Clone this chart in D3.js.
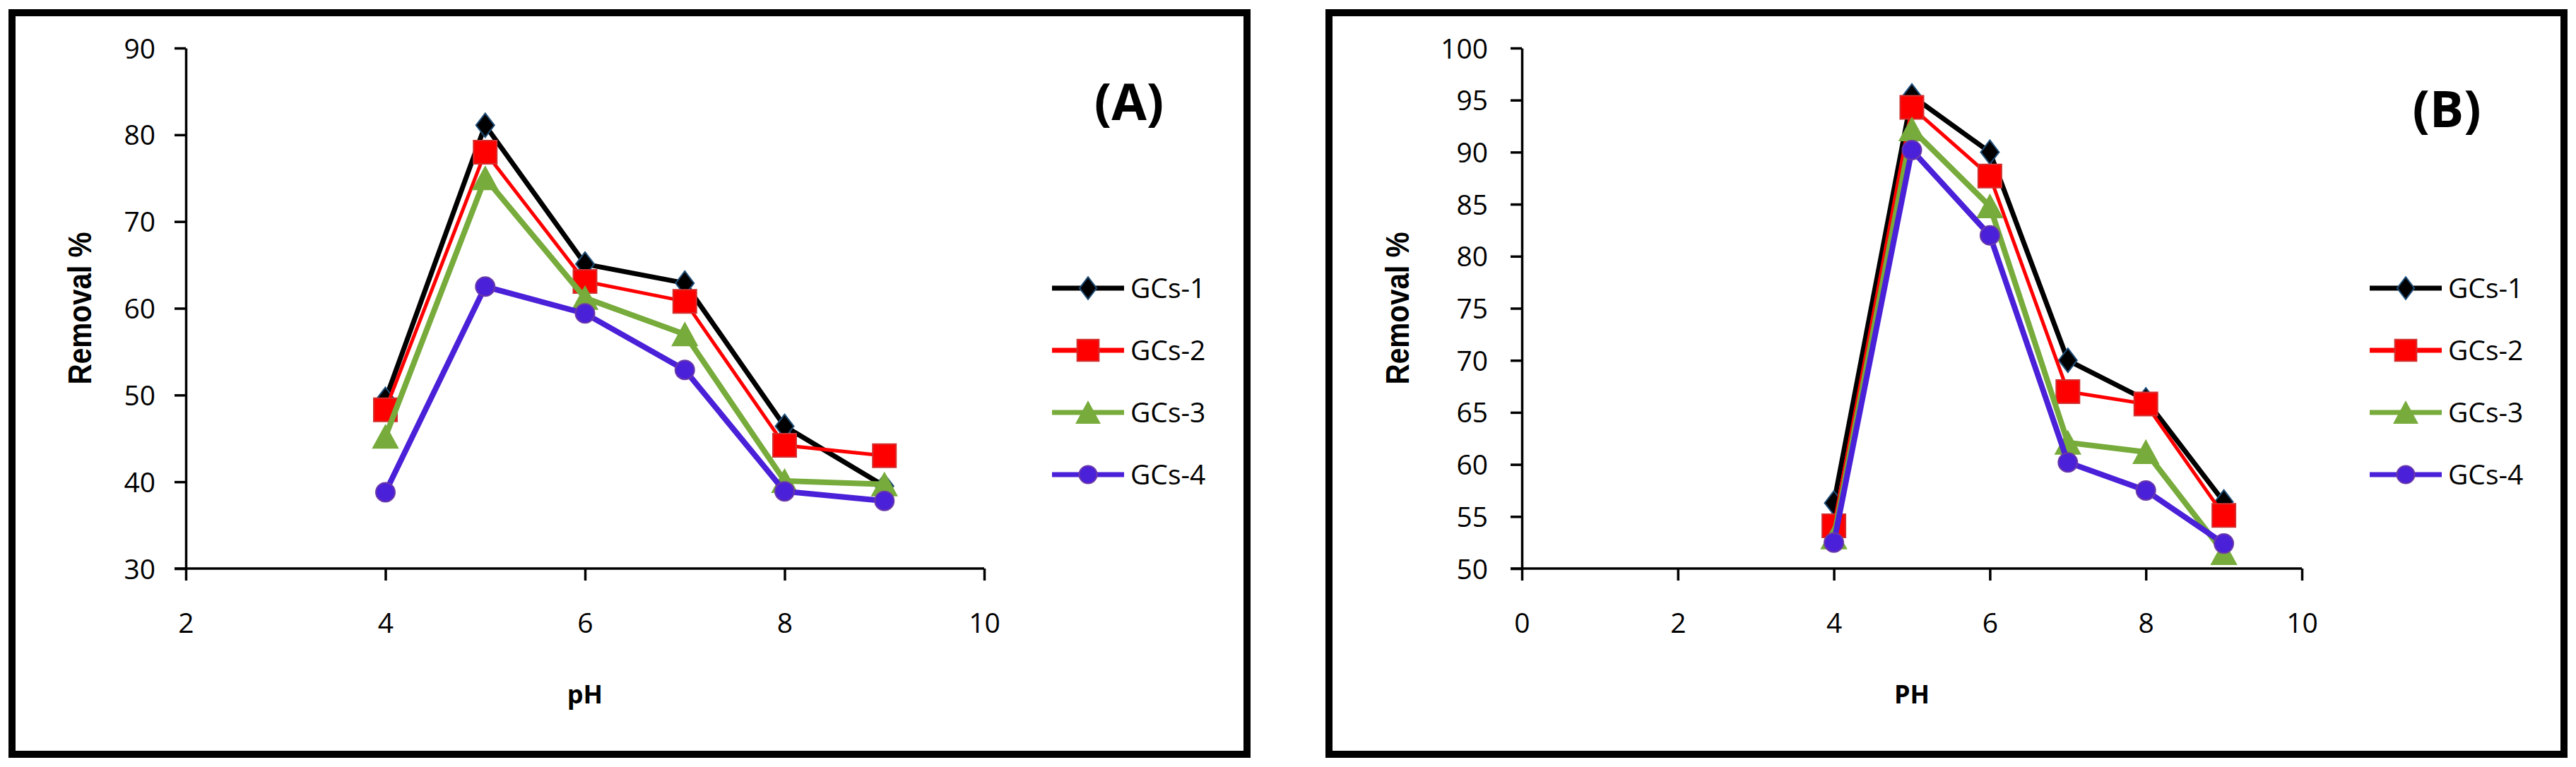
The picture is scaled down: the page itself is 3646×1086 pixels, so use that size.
<!DOCTYPE html>
<html>
<head>
<meta charset="utf-8">
<script src="https://cdn.jsdelivr.net/npm/d3@7"></script>
<style>
  html, body { margin: 0; padding: 0; background: #ffffff; }
  svg { display: block; }
</style>
</head>
<body>
<svg id="chart" width="3646" height="1086"></svg>
<script>
// ---------------- DATA ----------------
const pH = [4, 5, 6, 7, 8, 9];
const seriesNames = ["GCs-1", "GCs-2", "GCs-3", "GCs-4"];

// Panel (A)
const removalA_GCs1 = [49.5, 81.1, 65.1, 62.9, 46.4, 39.5];
const removalA_GCs2 = [48.3, 78.0, 63.1, 60.8, 44.2, 43.0];
const removalA_GCs3 = [45.2, 75.0, 61.2, 57.0, 40.1, 39.7];
const removalA_GCs4 = [38.8, 62.5, 59.4, 52.9, 38.9, 37.8];

// Panel (B)
const removalB_GCs1 = [56.3, 95.4, 90.0, 70.0, 66.2, 56.4];
const removalB_GCs2 = [54.1, 94.3, 87.7, 67.0, 65.8, 55.1];
const removalB_GCs3 = [53.0, 92.2, 84.8, 62.1, 61.2, 51.5];
const removalB_GCs4 = [52.5, 90.2, 82.0, 60.2, 57.5, 52.4];

const xTicksA = [2, 4, 6, 8, 10];
const yTicksA = [30, 40, 50, 60, 70, 80, 90];
const xTicksB = [0, 2, 4, 6, 8, 10];
const yTicksB = [50, 55, 60, 65, 70, 75, 80, 85, 90, 95, 100];

const panelLabels = ["(A)", "(B)"];
const xTitles = ["pH", "PH"];
const yTitle = "Removal %";

// ---------------- STYLE ----------------
const colors = ["#000000", "#ff0000", "#77ab3b", "#4a20d8"];
const strokeW = [7, 5, 8, 8];
const markerStroke = ["#1f4e79", "#d1302f", "#77ab3b", "#6b3aa8"];
const shapes = ["diamond", "square", "triangle", "circle"];
const tickFont = "'Open Sans', 'Liberation Sans', sans-serif";

const svg = d3.select("#chart");

function markerPath(shape, s) {
  const p = d3.path();
  if (shape === "diamond") {
    const w = 13 * s, h = 17 * s;
    p.moveTo(0, -h); p.lineTo(w, 0); p.lineTo(0, h); p.lineTo(-w, 0); p.closePath();
  } else if (shape === "square") {
    const a = 16.5 * s;
    p.rect(-a, -a, 2 * a, 2 * a);
  } else if (shape === "triangle") {
    const w = 17.5 * s, h = 16 * s;
    p.moveTo(0, -h); p.lineTo(w, h); p.lineTo(-w, h); p.closePath();
  } else {
    p.arc(0, 0, 13.5 * s, 0, Math.PI * 2);
  }
  return p.toString();
}

function drawPanel(cfg) {
  const g = svg.append("g");

  // Border box
  g.append("rect")
    .attr("x", cfg.box[0]).attr("y", cfg.box[1])
    .attr("width", cfg.box[2]).attr("height", cfg.box[3])
    .attr("fill", "#ffffff").attr("stroke", "#000").attr("stroke-width", 10);

  const x = d3.scaleLinear().domain(cfg.xDomain).range(cfg.xRange);
  const y = d3.scaleLinear().domain(cfg.yDomain).range(cfg.yRange);

  // Axes
  const xAxis = g.append("g")
    .attr("transform", `translate(0,${cfg.yRange[0]})`)
    .call(d3.axisBottom(x).tickValues(cfg.xTicks).tickSize(17).tickPadding(46).tickSizeOuter(0));
  const yAxis = g.append("g")
    .attr("transform", `translate(${cfg.xRange[0]},0)`)
    .call(d3.axisLeft(y).tickValues(cfg.yTicks).tickSize(16).tickPadding(cfg.yPad).tickSizeOuter(0));

  [xAxis, yAxis].forEach(a => {
    a.select(".domain").attr("stroke", "#000").attr("stroke-width", 3.5);
    a.selectAll(".tick line").attr("stroke", "#000").attr("stroke-width", 3.5);
    a.selectAll(".tick text")
      .attr("fill", "#000")
      .style("font-family", tickFont)
      .style("font-size", "39px");
  });
  // extend x-axis line to cover the y-axis tick overhang
  xAxis.select(".domain").attr("d", `M${cfg.xRange[0] - 16},0H${cfg.xRange[1]}`);
  // last x tick (at right end) drawn too
  yAxis.selectAll(".tick text").attr("dy", "0.36em");

  // Series
  cfg.series.forEach((vals, i) => {
    const pts = pH.map((p, k) => [x(p), y(vals[k])]);
    g.append("path")
      .attr("d", d3.line()(pts))
      .attr("fill", "none")
      .attr("stroke", colors[i])
      .attr("stroke-width", strokeW[i])
      .attr("stroke-linejoin", "miter");
    g.selectAll(null).data(pts).enter().append("path")
      .attr("transform", d => `translate(${d[0]},${d[1]})`)
      .attr("d", markerPath(shapes[i], 1))
      .attr("fill", colors[i])
      .attr("stroke", markerStroke[i])
      .attr("stroke-width", 2);
  });

  // Legend
  const lg = g.append("g");
  seriesNames.forEach((name, i) => {
    const yy = cfg.legend.y0 + i * cfg.legend.dy;
    lg.append("line")
      .attr("x1", cfg.legend.x1).attr("x2", cfg.legend.x2)
      .attr("y1", yy).attr("y2", yy)
      .attr("stroke", colors[i]).attr("stroke-width", 7);
    lg.append("path")
      .attr("transform", `translate(${(cfg.legend.x1 + cfg.legend.x2) / 2},${yy})`)
      .attr("d", markerPath(shapes[i], 0.93))
      .attr("fill", colors[i])
      .attr("stroke", markerStroke[i])
      .attr("stroke-width", 2);
    lg.append("text")
      .attr("x", cfg.legend.tx).attr("y", yy + 14)
      .style("font-family", tickFont)
      .style("font-size", "39px")
      .attr("fill", "#000")
      .text(name);
  });

  // Panel label
  g.append("text")
    .attr("x", cfg.label[0]).attr("y", cfg.label[1])
    .attr("text-anchor", "middle")
    .style("font-family", tickFont)
    .style("font-weight", "bold")
    .style("font-size", "72px")
    .attr("fill", "#000")
    .text(cfg.labelText);

  // Axis titles
  g.append("text")
    .attr("x", (cfg.xRange[0] + cfg.xRange[1]) / 2).attr("y", 996)
    .attr("text-anchor", "middle")
    .style("font-family", tickFont)
    .style("font-weight", "bold")
    .style("font-size", "36px")
    .attr("fill", "#000")
    .text(cfg.xTitle);

  g.append("text")
    .attr("transform", `translate(${cfg.yTitleX},${(cfg.yRange[0] + cfg.yRange[1]) / 2}) rotate(-90)`)
    .attr("text-anchor", "middle")
    .attr("dy", "0.36em")
    .attr("textLength", 216)
    .attr("lengthAdjust", "spacingAndGlyphs")
    .style("font-family", "'Liberation Sans', Arial, sans-serif")
    .style("font-weight", "bold")
    .style("font-size", "46px")
    .attr("fill", "#000")
    .text(yTitle);
}

drawPanel({
  box: [17, 18, 1748, 1050],
  xDomain: [2, 10], xRange: [263, 1393],
  yDomain: [30, 90], yRange: [805, 68],
  xTicks: xTicksA, yTicks: yTicksA, yPad: 27,
  series: [removalA_GCs1, removalA_GCs2, removalA_GCs3, removalA_GCs4],
  legend: { x1: 1489, x2: 1591, tx: 1600, y0: 408, dy: 88 },
  label: [1598, 170], labelText: panelLabels[0],
  xTitle: xTitles[0], yTitleX: 112
});

drawPanel({
  box: [1881, 18, 1748, 1050],
  xDomain: [0, 10], xRange: [2154, 3258],
  yDomain: [50, 100], yRange: [805, 68],
  xTicks: xTicksB, yTicks: yTicksB, yPad: 32,
  series: [removalB_GCs1, removalB_GCs2, removalB_GCs3, removalB_GCs4],
  legend: { x1: 3354, x2: 3456, tx: 3465, y0: 408, dy: 88 },
  label: [3463, 180], labelText: panelLabels[1],
  xTitle: xTitles[1], yTitleX: 1977
});
</script>
</body>
</html>
